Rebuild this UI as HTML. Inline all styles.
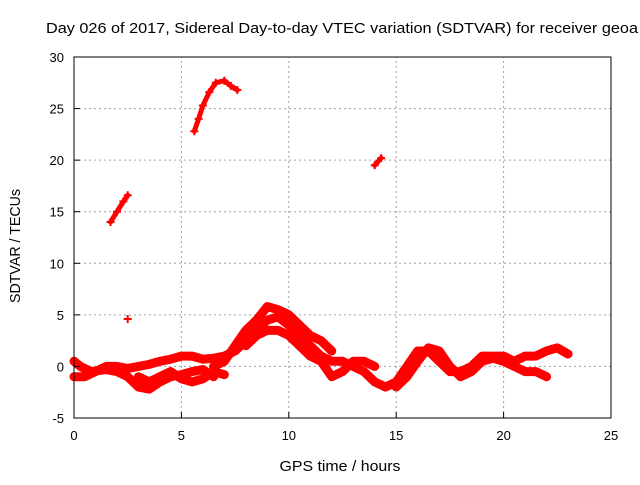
<!DOCTYPE html>
<html><head><meta charset="utf-8"><style>
body{margin:0;background:#fff;width:640px;height:480px;overflow:hidden}
svg text{font-family:"Liberation Sans",sans-serif;font-size:13px;fill:#000}
</style></head><body>
<svg id="c" width="640" height="480" xmlns="http://www.w3.org/2000/svg">
<text x="46" y="33" style="font-size:15px" textLength="592" lengthAdjust="spacingAndGlyphs">Day 026 of 2017, Sidereal Day-to-day VTEC variation (SDTVAR) for receiver geoa</text>
<text x="340" y="471" style="font-size:15px" textLength="121" lengthAdjust="spacingAndGlyphs" text-anchor="middle">GPS time / hours</text>
<text transform="translate(20,246) rotate(-90)" style="font-size:15px" textLength="114" lengthAdjust="spacingAndGlyphs" text-anchor="middle">SDTVAR / TECUs</text>
<g id="grid"></g><g id="marks"></g><g id="axes"></g>
</svg>
<script>
const xTicks=[0,5,10,15,20,25];
const yTicks=[-5,0,5,10,15,20,25,30];
const trackA=[[1.7,14],[2.0,15],[2.3,16],[2.5,16.6]];
const trackB=[[5.6,22.8],[5.8,24],[6.0,25.3],[6.3,26.6],[6.6,27.5],[7.0,27.7],[7.3,27.2],[7.6,26.8]];
const trackC=[[14.0,19.5],[14.3,20.2]];
const isolated=[[2.5,4.6]];
const low1=[[0,0.5],[0.3,0],[0.8,-0.5],[1.5,-0.3],[2,-0.5],[2.5,-1],[3,-2],[3.5,-2.2],[4,-1.5],[4.5,-1],[5,-0.8],[5.5,-0.5],[6,-0.3],[6.5,-1]];
const low2=[[0,-1],[0.5,-1],[1,-0.5],[1.5,0],[2,0],[2.5,-0.2],[3,0],[3.5,0.2],[4,0.5],[4.5,0.7],[5,1],[5.5,1],[6,0.7],[6.5,0.8],[7,1],[7.5,1.5],[8,2.5],[8.5,3.5],[9,4.5],[9.5,4.8],[10,4],[10.5,3],[11,2],[11.5,1],[12,0.5],[12.5,0.5],[13,0],[13.5,-0.5],[14,-1.5],[14.5,-2],[15,-1.5],[15.5,0],[16,1.5],[16.5,1.5],[17,0.5],[17.5,-0.5],[18,-0.5],[18.5,0],[19,1],[19.5,1],[20,1],[20.5,0.5],[21,1],[21.5,1],[22,1.5],[22.5,1.8],[23,1.2]];
const low3=[[6.5,0],[7,0.5],[7.5,2],[8,3.5],[8.5,4.5],[9,5.8],[9.5,5.5],[10,5],[10.5,4],[11,3],[11.5,2.5],[12,1.5]];
const low4=[[8,2],[8.5,3],[9,3.5],[9.5,3.5],[10,3],[10.5,2],[11,1],[11.5,0.5],[12,-1],[12.5,-0.5],[13,0.5],[13.5,0.5],[14,0]];
const low5=[[15,-2],[15.5,-1],[16,0.5],[16.5,1.8],[17,1.5],[17.5,0],[18,-1],[18.5,-0.5],[19,0.5],[19.5,0.8],[20,0.5],[20.5,0],[21,-0.5],[21.5,-0.5],[22,-1]];
const low6=[[3,-1],[3.5,-1.5],[4,-1],[4.5,-0.5],[5,-1.2],[5.5,-1.5],[6,-1.2],[6.5,-0.5],[7,-0.8]];
const X0=74,X1=611,Y0=418,Y1=57;
const xs=v=>X0+(v-0)/(25-0)*(X1-X0);
const ys=v=>Y0-(v+5)/(30+5)*(Y0-Y1);
const NS="http://www.w3.org/2000/svg";
function mk(t,a,p){const e=document.createElementNS(NS,t);for(const k in a)e.setAttribute(k,a[k]);p.appendChild(e);return e;}
const grid=document.getElementById('grid'),marks=document.getElementById('marks'),axes=document.getElementById('axes');
xTicks.forEach(t=>{const x=xs(t);
 if(t>0&&t<25){const g=mk('line',{x1:x,y1:Y0,x2:x,y2:Y1,stroke:'#a0a0a0','stroke-dasharray':'2,3'},grid);
 
 }
 const k=mk('line',{x1:x,y1:Y0,x2:x,y2:Y0-6,stroke:'#000'},axes);
 
 
 const l=mk('text',{x:x,y:Y0+22,'text-anchor':'middle'},axes);l.textContent=t;
 
 });
yTicks.forEach(t=>{const y=ys(t);
 if(t>-5&&t<30){const g=mk('line',{x1:X0,y1:y,x2:X1,y2:y,stroke:'#a0a0a0','stroke-dasharray':'2,3'},grid);
 
 }
 const k=mk('line',{x1:X0,y1:y,x2:X0+6,y2:y,stroke:'#000'},axes);
 
 
 const l=mk('text',{x:X0-10,y:y+5,'text-anchor':'end'},axes);l.textContent=t;
 
 });
const f=mk('rect',{x:X0,y:Y1,width:X1-X0,height:Y0-Y1,fill:'none',stroke:'#000'},axes);


[trackA,trackB,trackC,isolated,low1,low2,low3,low4,low5,low6].forEach((s,i)=>{
 const g=mk('g',{},marks);
 
 
 if(s.length>1)mk('polyline',{points:s.map(p=>xs(p[0])+','+ys(p[1])).join(' '),fill:'none',stroke:'#ff0000','stroke-width':i>=4?9:5,'stroke-linejoin':'round','stroke-linecap':'round'},g);
 s.forEach(p=>{const x=xs(p[0]),y=ys(p[1]);
  mk('path',{d:`M${x-4},${y}H${x+4}M${x},${y-4}V${y+4}`,stroke:'#ff0000','stroke-width':2},g);});
});
</script>
</body></html>
